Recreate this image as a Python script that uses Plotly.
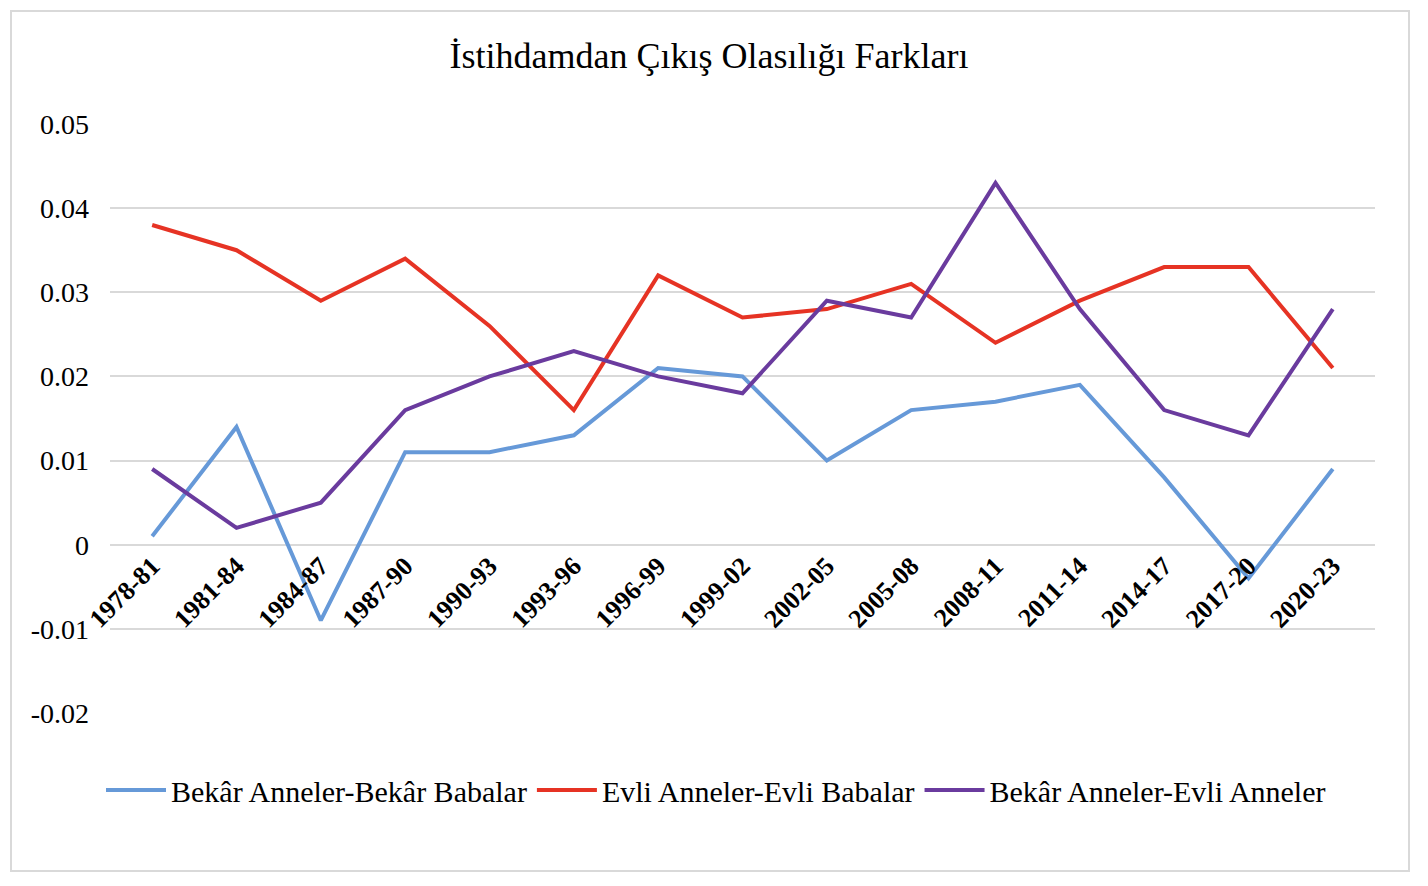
import plotly.graph_objects as go

categories = ["1978-81", "1981-84", "1984-87", "1987-90", "1990-93", "1993-96", "1996-99",
              "1999-02", "2002-05", "2005-08", "2008-11", "2011-14", "2014-17", "2017-20", "2020-23"]

bekar_anne_baba = [0.001, 0.014, -0.009, 0.011, 0.011, 0.013, 0.021, 0.020, 0.010, 0.016,
                   0.017, 0.019, 0.008, -0.004, 0.009]
evli_anne_baba = [0.038, 0.035, 0.029, 0.034, 0.026, 0.016, 0.032, 0.027, 0.028, 0.031,
                  0.024, 0.029, 0.033, 0.033, 0.021]
bekar_evli_anne = [0.009, 0.002, 0.005, 0.016, 0.020, 0.023, 0.020, 0.018, 0.029, 0.027,
                   0.043, 0.028, 0.016, 0.013, 0.028]

series_names = ["Bekâr Anneler-Bekâr Babalar", "Evli Anneler-Evli Babalar", "Bekâr Anneler-Evli Anneler"]
series_colors = ["#6699D8", "#E63324", "#6A3B9E"]

y_tick_vals = [0.05, 0.04, 0.03, 0.02, 0.01, 0, -0.01, -0.02]
y_tick_text = ["0.05", "0.04", "0.03", "0.02", "0.01", "0", "-0.01", "-0.02"]

title_text = "İstihdamdan Çıkış Olasılığı Farkları"

FONT = "Liberation Serif, Times New Roman, serif"

fig = go.Figure()
for name, vals, col in zip(series_names, [bekar_anne_baba, evli_anne_baba, bekar_evli_anne], series_colors):
    fig.add_trace(go.Scatter(x=categories, y=vals, mode="lines", name=name,
                             line=dict(color=col, width=4)))

y_min, y_max = -0.02, 0.05
zero_pos = (0 - y_min) / (y_max - y_min)

fig.update_layout(
    width=1428, height=886,
    paper_bgcolor="white", plot_bgcolor="white",
    margin=dict(l=110, r=53, t=124, b=173),
    font=dict(family=FONT, color="black"),
    title=dict(text=title_text, x=709 / 1428, xanchor="center", y=1 - 55 / 886, yanchor="middle",
               xref="container", font=dict(family=FONT, size=36, color="black")),
    xaxis=dict(type="category", range=[-0.5, len(categories) - 0.5], showgrid=False,
               showline=False, zeroline=False, ticks="", tickangle=-45,
               anchor="free", position=zero_pos,
               tickfont=dict(family=FONT, size=26, color="black", weight="bold")),
    yaxis=dict(range=[y_min, y_max], tickvals=y_tick_vals, ticktext=y_tick_text,
               showgrid=True, gridcolor="#D9D9D9", gridwidth=1.5,
               zeroline=True, zerolinecolor="#D9D9D9", zerolinewidth=1.5,
               showline=False, ticks="", ticklabelstandoff=20,
               tickfont=dict(family=FONT, size=28, color="black")),
    legend=dict(orientation="h", x=(716 - 110) / 1265, xanchor="center", y=-77 / 589, yanchor="middle",
                font=dict(family=FONT, size=30, color="black"), itemwidth=60,
                bgcolor="rgba(0,0,0,0)"),
    showlegend=True,
)

fig.add_shape(type="rect", xref="paper", yref="paper",
              x0=(11 - 110) / 1265, x1=(1409 - 110) / 1265,
              y0=(713 - 871) / 589, y1=(713 - 11) / 589,
              line=dict(color="#D9D9D9", width=2), fillcolor="rgba(0,0,0,0)", layer="below")

fig.write_html("out.html")
